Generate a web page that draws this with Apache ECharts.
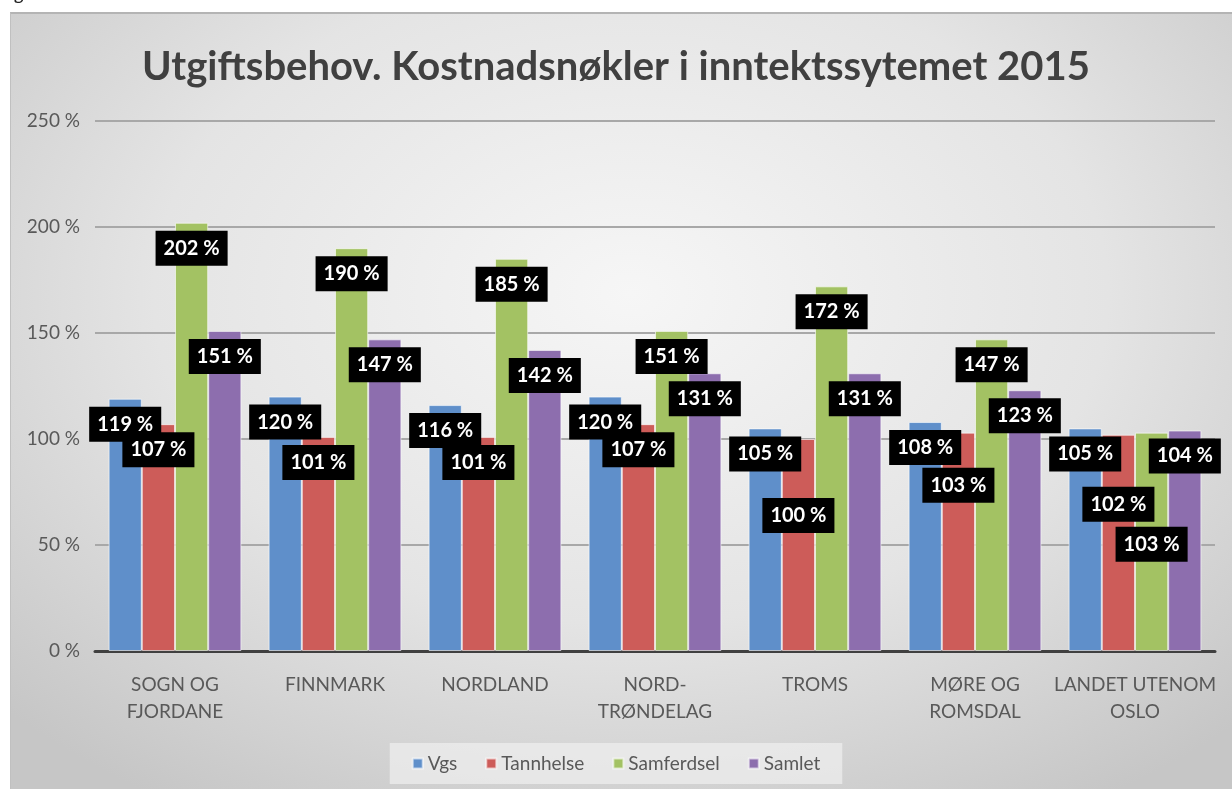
<!DOCTYPE html>
<html>
<head>
<meta charset="utf-8">
<title>Utgiftsbehov. Kostnadsnøkler i inntektssytemet 2015</title>
<script src="https://cdn.jsdelivr.net/npm/echarts@6/dist/echarts.min.js"></script>
<style>
  html, body { margin: 0; padding: 0; background: #fff; }
  #frame {
    position: absolute; left: 10px; top: 12px; width: 1240px; height: 800px;
    border-top: 2px solid #b4b4b4; border-left: 1px solid #c0c0c0;
    background: radial-gradient(ellipse 70% 75% at 50% 35%, #f6f6f6 0%, #e4e4e4 55%, #c6c6c6 100%);
  }
  #chart { position: absolute; left: 0; top: 0; width: 1232px; height: 789px; }
</style>
</head>
<body>
<div id="frame"></div>
<div id="chart"></div>
<script>
// 数据
const categories = ['SOGN OG\nFJORDANE', 'FINNMARK', 'NORDLAND', 'NORD-\nTRØNDELAG', 'TROMS', 'MØRE OG\nROMSDAL', 'LANDET UTENOM\nOSLO'];
const vgs = [119, 120, 116, 120, 105, 108, 105];
const tannhelse = [107, 101, 101, 107, 100, 103, 102];
const samferdsel = [202, 190, 185, 151, 172, 147, 103];
const samlet = [151, 147, 142, 131, 131, 123, 104];
const yTicks = [0, 50, 100, 150, 200, 250];

// 标签手动下移 (series name -> category index -> px)
const labelShift = {
  Tannhelse: { 4: 51, 5: 27, 6: 44 },
  Samferdsel: { 6: 86 }
};

const colors = {
  Vgs: '#5f8fca',
  Tannhelse: '#cd5c59',
  Samferdsel: '#a3c263',
  Samlet: '#8d6eae'
};

const FONT = 'Lato, "Open Sans", sans-serif';

function buildSeries(name, values) {
  const shifts = labelShift[name] || {};
  return {
    name: name,
    type: 'bar',
    barGap: '0%',
    barCategoryGap: '17%',
    itemStyle: { color: colors[name], borderColor: 'rgba(255,255,255,0.6)', borderWidth: 1 },
    label: {
      show: true,
      position: 'insideTop',
      distance: 8,
      formatter: (p) => p.value + ' %',
      color: '#fff',
      backgroundColor: '#000',
      fontFamily: FONT,
      fontWeight: 'bold',
      fontSize: 20,
      lineHeight: 21,
      padding: [7, 8]
    },
    data: values.map((v, i) => shifts[i] ? { value: v, label: { offset: [0, shifts[i]] } } : v)
  };
}

const chart = echarts.init(document.getElementById('chart'));

chart.setOption({
  backgroundColor: 'transparent',
  animation: false,
  title: {
    text: 'Utgiftsbehov. Kostnadsnøkler i inntektssytemet 2015',
    left: 'center',
    top: 42,
    textStyle: { fontFamily: FONT, fontSize: 40, fontWeight: 'bold', color: '#404040' }
  },
  graphic: [{
    type: 'text',
    left: 0,
    top: -16,
    style: { text: 'Figur 2.11', font: 'italic 20px ' + FONT, fill: '#222' }
  }],
  legend: {
    bottom: 5,
    left: 'center',
    backgroundColor: 'rgba(240,240,240,0.7)',
    padding: [11, 22, 11, 22],
    itemWidth: 10,
    itemHeight: 10,
    itemGap: 28,
    icon: 'rect',
    textStyle: { fontFamily: FONT, fontSize: 19, color: '#595959' }
  },
  grid: { left: 95, right: 17, top: 121, bottom: 138 },
  xAxis: {
    type: 'category',
    data: categories,
    axisLine: { lineStyle: { color: '#404040', width: 3 } },
    axisTick: { show: false },
    axisLabel: { interval: 0, fontFamily: FONT, fontSize: 19, color: '#595959', margin: 20, lineHeight: 27 }
  },
  yAxis: {
    type: 'value',
    min: yTicks[0],
    max: yTicks[yTicks.length - 1],
    interval: 50,
    axisLine: { show: false },
    axisTick: { show: false },
    splitLine: { lineStyle: { color: '#a8a8a8', width: 2 } },
    axisLabel: { fontFamily: FONT, fontSize: 19, color: '#595959', margin: 15, formatter: '{value} %' }
  },
  series: [
    buildSeries('Vgs', vgs),
    buildSeries('Tannhelse', tannhelse),
    buildSeries('Samferdsel', samferdsel),
    buildSeries('Samlet', samlet)
  ]
});
</script>
</body>
</html>
